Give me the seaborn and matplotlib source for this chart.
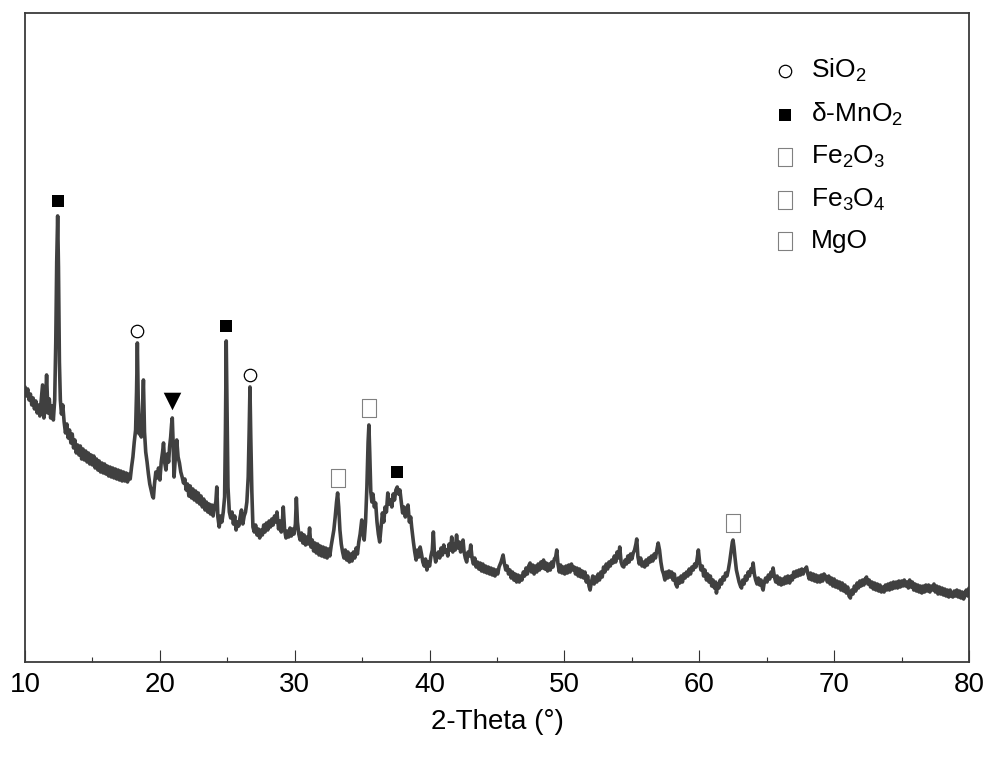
import numpy as np
import pandas as pd
import matplotlib
matplotlib.use('Agg')
import matplotlib.pyplot as plt
import seaborn as sns

# XRD scan: (2-theta in degrees, intensity in a.u.)
xrd_points = [
    (10.0, 275), (10.1, 266), (10.2, 273), (10.3, 262), (10.4, 268), (10.5, 257), (10.6, 264), (10.7, 253),
    (10.8, 261), (10.9, 249), (11.0, 257), (11.1, 246), (11.2, 262), (11.3, 277), (11.4, 244), (11.5, 255),
    (11.6, 287), (11.7, 249), (11.8, 263), (11.9, 244), (12.0, 256), (12.1, 242), (12.2, 262), (12.28, 320),
    (12.35, 400), (12.42, 446), (12.48, 395), (12.55, 300), (12.62, 262), (12.7, 248), (12.8, 257), (12.9, 240),
    (13.0, 229), (13.1, 238), (13.2, 224), (13.3, 232), (13.4, 219), (13.5, 228), (13.6, 214), (13.7, 222),
    (13.8, 209), (13.9, 217), (14.0, 207), (14.1, 216), (14.2, 203), (14.3, 213), (14.4, 202), (14.5, 211),
    (14.6, 200), (14.7, 209), (14.8, 198), (14.9, 207), (15.0, 197), (15.1, 206), (15.2, 194), (15.3, 203),
    (15.4, 192), (15.5, 201), (15.6, 190), (15.7, 199), (15.8, 189), (15.9, 198), (16.0, 188), (16.1, 196),
    (16.2, 186), (16.3, 195), (16.4, 185), (16.5, 194), (16.6, 184), (16.7, 193), (16.8, 183), (16.9, 192),
    (17.0, 182), (17.1, 191), (17.2, 181), (17.3, 190), (17.4, 181), (17.5, 189), (17.6, 180), (17.7, 188),
    (17.8, 183), (17.9, 195), (18.0, 205), (18.1, 220), (18.2, 232), (18.27, 270), (18.33, 319), (18.39, 265),
    (18.46, 228), (18.55, 232), (18.62, 225), (18.7, 250), (18.78, 282), (18.86, 230), (18.95, 210), (19.05, 200),
    (19.15, 188), (19.25, 178), (19.35, 172), (19.45, 166), (19.52, 164), (19.6, 178), (19.7, 190), (19.8, 184),
    (19.9, 194), (20.0, 182), (20.1, 200), (20.2, 210), (20.27, 219), (20.35, 200), (20.45, 192), (20.55, 208),
    (20.65, 200), (20.72, 215), (20.8, 225), (20.87, 238), (20.92, 244), (20.98, 220), (21.05, 185), (21.15, 205),
    (21.25, 222), (21.35, 205), (21.45, 199), (21.55, 190), (21.65, 185), (21.75, 179), (21.85, 183), (21.95, 172),
    (22.05, 178), (22.15, 166), (22.25, 176), (22.35, 164), (22.45, 173), (22.55, 162), (22.65, 171), (22.75, 160),
    (22.85, 169), (22.95, 158), (23.05, 166), (23.15, 155), (23.25, 163), (23.35, 152), (23.45, 160), (23.55, 150),
    (23.65, 158), (23.75, 148), (23.85, 157), (23.95, 146), (24.05, 155), (24.15, 160), (24.22, 175), (24.3, 145),
    (24.4, 135), (24.5, 146), (24.6, 140), (24.7, 150), (24.8, 165), (24.86, 230), (24.92, 321), (24.98, 250),
    (25.05, 175), (25.15, 150), (25.25, 144), (25.35, 150), (25.45, 138), (25.55, 146), (25.65, 132), (25.75, 140),
    (25.85, 136), (25.95, 145), (26.05, 152), (26.15, 138), (26.25, 146), (26.35, 150), (26.45, 160), (26.55, 185),
    (26.62, 230), (26.68, 275), (26.74, 225), (26.82, 170), (26.9, 135), (27.0, 130), (27.1, 137), (27.2, 127),
    (27.3, 133), (27.4, 124), (27.5, 132), (27.6, 127), (27.7, 137), (27.8, 130), (27.9, 139), (28.0, 132),
    (28.1, 141), (28.2, 135), (28.3, 143), (28.4, 137), (28.5, 146), (28.6, 140), (28.68, 150), (28.8, 133),
    (28.9, 141), (29.0, 130), (29.08, 140), (29.15, 155), (29.25, 132), (29.35, 124), (29.45, 131), (29.55, 125),
    (29.65, 134), (29.75, 126), (29.85, 133), (29.95, 128), (30.05, 138), (30.12, 164), (30.2, 140), (30.3, 128),
    (30.4, 122), (30.5, 129), (30.6, 119), (30.7, 127), (30.8, 117), (30.9, 125), (31.0, 118), (31.1, 134),
    (31.2, 115), (31.3, 122), (31.4, 111), (31.5, 119), (31.6, 109), (31.7, 118), (31.8, 107), (31.9, 116),
    (32.0, 106), (32.1, 115), (32.2, 105), (32.3, 114), (32.4, 104), (32.5, 113), (32.6, 106), (32.7, 116),
    (32.8, 124), (32.9, 132), (33.0, 145), (33.1, 160), (33.18, 169), (33.26, 155), (33.35, 132), (33.45, 118),
    (33.55, 110), (33.65, 104), (33.75, 112), (33.85, 102), (33.95, 110), (34.05, 100), (34.15, 108), (34.25, 101),
    (34.35, 110), (34.45, 104), (34.55, 114), (34.65, 108), (34.75, 120), (34.85, 128), (34.97, 142), (35.05, 130),
    (35.15, 122), (35.25, 140), (35.35, 175), (35.44, 220), (35.5, 237), (35.56, 210), (35.64, 170), (35.72, 160),
    (35.8, 168), (35.9, 155), (36.0, 159), (36.1, 140), (36.2, 128), (36.3, 120), (36.4, 135), (36.5, 149),
    (36.6, 140), (36.7, 155), (36.8, 150), (36.9, 169), (37.0, 158), (37.1, 162), (37.2, 155), (37.3, 168),
    (37.4, 162), (37.5, 172), (37.6, 175), (37.7, 168), (37.8, 172), (37.9, 160), (38.0, 149), (38.1, 155),
    (38.2, 145), (38.3, 152), (38.4, 157), (38.5, 140), (38.6, 145), (38.67, 135), (38.8, 120), (38.9, 110),
    (39.0, 102), (39.1, 112), (39.2, 105), (39.3, 115), (39.4, 108), (39.5, 100), (39.6, 96), (39.7, 103),
    (39.8, 92), (39.9, 100), (40.0, 96), (40.1, 106), (40.2, 112), (40.28, 130), (40.36, 108), (40.45, 100),
    (40.55, 106), (40.65, 110), (40.75, 104), (40.85, 114), (40.95, 107), (41.05, 117), (41.15, 110), (41.25, 112),
    (41.35, 106), (41.45, 118), (41.55, 112), (41.64, 125), (41.72, 110), (41.8, 118), (41.9, 112), (42.0, 127),
    (42.1, 114), (42.2, 120), (42.3, 110), (42.4, 118), (42.48, 122), (42.56, 110), (42.65, 104), (42.75, 100),
    (42.85, 110), (42.95, 106), (43.05, 117), (43.15, 104), (43.25, 98), (43.35, 104), (43.45, 95), (43.55, 100),
    (43.65, 93), (43.75, 99), (43.85, 91), (43.95, 98), (44.05, 90), (44.15, 96), (44.25, 89), (44.35, 95),
    (44.45, 88), (44.55, 94), (44.65, 87), (44.75, 93), (44.85, 86), (44.95, 92), (45.05, 88), (45.15, 95),
    (45.3, 100), (45.45, 107), (45.55, 98), (45.65, 92), (45.75, 96), (45.85, 88), (45.96, 92), (46.05, 84),
    (46.15, 90), (46.25, 82), (46.35, 88), (46.45, 80), (46.55, 87), (46.65, 80), (46.75, 86), (46.85, 82),
    (46.95, 90), (47.05, 86), (47.15, 94), (47.25, 88), (47.35, 96), (47.45, 99), (47.55, 90), (47.65, 97),
    (47.75, 88), (47.85, 96), (47.95, 90), (48.05, 98), (48.15, 92), (48.25, 100), (48.35, 94), (48.45, 102),
    (48.55, 93), (48.65, 99), (48.75, 91), (48.85, 98), (48.95, 92), (49.05, 100), (49.15, 95), (49.25, 103),
    (49.35, 105), (49.43, 112), (49.52, 98), (49.62, 90), (49.72, 97), (49.82, 89), (49.92, 95), (50.02, 88),
    (50.12, 96), (50.22, 89), (50.32, 97), (50.42, 90), (50.52, 98), (50.62, 92), (50.72, 95), (50.82, 88),
    (50.92, 94), (51.02, 86), (51.12, 93), (51.22, 85), (51.32, 91), (51.42, 84), (51.52, 90), (51.62, 80),
    (51.72, 86), (51.82, 76), (51.9, 72), (52.0, 80), (52.1, 86), (52.2, 78), (52.3, 85), (52.4, 80),
    (52.5, 88), (52.6, 82), (52.7, 90), (52.8, 85), (52.9, 95), (53.0, 90), (53.1, 98), (53.2, 93),
    (53.3, 100), (53.4, 96), (53.5, 102), (53.6, 99), (53.7, 106), (53.8, 100), (53.9, 110), (54.0, 104),
    (54.1, 115), (54.2, 100), (54.3, 96), (54.4, 95), (54.5, 102), (54.6, 98), (54.7, 106), (54.8, 100),
    (54.9, 108), (55.0, 103), (55.1, 109), (55.2, 112), (55.3, 118), (55.36, 123), (55.45, 105), (55.55, 98),
    (55.65, 104), (55.75, 96), (55.85, 100), (55.95, 95), (56.05, 102), (56.15, 97), (56.25, 104), (56.35, 100),
    (56.45, 106), (56.55, 101), (56.65, 108), (56.75, 104), (56.85, 112), (56.95, 119), (57.05, 112), (57.15, 100),
    (57.25, 92), (57.35, 88), (57.45, 82), (57.55, 90), (57.65, 84), (57.75, 91), (57.85, 85), (57.95, 90),
    (58.05, 82), (58.15, 88), (58.25, 78), (58.35, 75), (58.45, 84), (58.55, 79), (58.65, 86), (58.75, 80),
    (58.85, 88), (58.95, 84), (59.05, 90), (59.15, 86), (59.25, 93), (59.35, 88), (59.45, 95), (59.55, 92),
    (59.65, 98), (59.75, 95), (59.85, 104), (59.93, 112), (60.02, 100), (60.12, 92), (60.22, 96), (60.32, 86),
    (60.42, 92), (60.53, 82), (60.62, 88), (60.72, 80), (60.82, 86), (60.92, 76), (61.02, 82), (61.12, 74),
    (61.22, 80), (61.27, 69), (61.35, 78), (61.45, 74), (61.55, 82), (61.65, 78), (61.75, 85), (61.85, 82),
    (61.95, 89), (62.05, 86), (62.15, 92), (62.25, 100), (62.35, 110), (62.45, 120), (62.5, 122), (62.57, 115),
    (62.65, 104), (62.75, 92), (62.85, 86), (62.95, 80), (63.05, 76), (63.13, 74), (63.22, 82), (63.32, 78),
    (63.42, 86), (63.52, 82), (63.62, 90), (63.72, 86), (63.82, 93), (63.9, 90), (63.99, 99), (64.08, 88),
    (64.18, 82), (64.28, 78), (64.38, 84), (64.48, 77), (64.58, 82), (64.68, 74), (64.73, 72), (64.82, 80),
    (64.92, 84), (65.02, 80), (65.12, 87), (65.22, 83), (65.32, 90), (65.42, 86), (65.47, 94), (65.57, 85),
    (65.67, 80), (65.77, 86), (65.87, 78), (65.97, 84), (66.07, 77), (66.17, 83), (66.27, 78), (66.37, 85),
    (66.47, 79), (66.57, 86), (66.7, 79), (66.8, 86), (66.9, 82), (67.0, 90), (67.1, 85), (67.2, 91),
    (67.3, 86), (67.4, 92), (67.5, 87), (67.6, 93), (67.7, 88), (67.8, 92), (67.95, 95), (68.05, 88),
    (68.15, 83), (68.25, 89), (68.35, 82), (68.45, 88), (68.55, 81), (68.65, 87), (68.75, 80), (68.85, 86),
    (68.95, 80), (69.05, 87), (69.15, 81), (69.25, 88), (69.4, 85), (69.5, 80), (69.6, 86), (69.7, 78),
    (69.8, 84), (69.9, 76), (70.0, 83), (70.1, 75), (70.2, 81), (70.3, 74), (70.4, 80), (70.5, 72),
    (70.6, 79), (70.7, 71), (70.8, 77), (70.9, 69), (71.0, 75), (71.1, 66), (71.2, 64), (71.3, 72),
    (71.4, 68), (71.5, 76), (71.6, 71), (71.7, 79), (71.8, 74), (71.9, 81), (72.0, 76), (72.1, 82),
    (72.2, 77), (72.3, 83), (72.4, 85), (72.5, 78), (72.6, 82), (72.7, 75), (72.8, 80), (72.9, 73),
    (73.0, 79), (73.1, 72), (73.2, 78), (73.3, 71), (73.4, 77), (73.5, 70), (73.6, 75), (73.7, 70),
    (73.8, 77), (73.9, 72), (74.0, 78), (74.1, 72), (74.2, 79), (74.3, 73), (74.4, 80), (74.5, 74),
    (74.6, 80), (74.7, 74), (74.8, 81), (74.9, 75), (75.0, 81), (75.1, 76), (75.2, 82), (75.3, 76),
    (75.4, 80), (75.5, 74), (75.6, 82), (75.7, 75), (75.8, 80), (75.9, 72), (76.0, 78), (76.1, 71),
    (76.2, 77), (76.3, 70), (76.4, 76), (76.5, 69), (76.6, 76), (76.7, 70), (76.8, 77), (76.9, 71),
    (77.0, 77), (77.1, 70), (77.2, 76), (77.3, 72), (77.4, 78), (77.5, 70), (77.6, 76), (77.7, 68),
    (77.8, 75), (77.9, 68), (78.0, 74), (78.1, 67), (78.2, 73), (78.3, 66), (78.4, 72), (78.5, 65),
    (78.6, 72), (78.7, 66), (78.8, 65), (78.9, 71), (79.0, 66), (79.1, 72), (79.2, 65), (79.3, 71),
    (79.4, 64), (79.5, 70), (79.6, 63), (79.7, 69), (79.8, 72), (79.9, 66), (80.0, 74),
]

# peak assignments (2-theta positions of the marked reflections)
sio2_peaks = [18.33, 26.68]
mno2_peaks = [12.42, 24.92, 37.6]
fe2o3_peaks = [33.18]
fe3o4_peaks = [35.5]
mgo_peaks = [62.5]
unknown_peaks = [20.92]

xticks = np.arange(10, 81, 10)

sns.set_style('white')
plt.rcParams['font.family'] = ['Liberation Sans', 'DejaVu Sans']
plt.rcParams['mathtext.fontset'] = 'custom'
plt.rcParams['mathtext.rm'] = 'Liberation Sans'
plt.rcParams['mathtext.default'] = 'regular'
plt.rcParams['text.color'] = 'black'
plt.rcParams['axes.labelcolor'] = 'black'
plt.rcParams['xtick.color'] = 'black'

df = pd.DataFrame(xrd_points, columns=['two_theta', 'intensity'])

fig, ax = plt.subplots(figsize=(9.89, 7.58), dpi=100)
plt.subplots_adjust(left=0.0253, right=0.9798, top=0.983, bottom=0.1266)

sns.lineplot(data=df, x='two_theta', y='intensity', color='#404040', linewidth=2.6, ax=ax)


def peak_top(theta):
    near = df[(df.two_theta - theta).abs() < 0.12]
    return near.intensity.max()


def mark(peaks, gap, **kw):
    ys = [peak_top(p) + gap for p in peaks]
    return ax.scatter(peaks, ys, zorder=5, clip_on=False, **kw)


box = [(-0.8, -1), (0.8, -1), (0.8, 1), (-0.8, 1), (-0.8, -1)]
h_sio2 = mark(sio2_peaks, 12, marker='o', s=80, facecolor='white', edgecolor='black', linewidth=0.9, label='SiO$_2$')
h_mno2 = mark(mno2_peaks, 15, marker='s', s=80, color='black', linewidth=0, label='δ-MnO$_2$')
h_fe2o3 = mark(fe2o3_peaks, 15, marker=box, s=170, facecolor='white', edgecolor='#808080', linewidth=0.8, label='Fe$_2$O$_3$')
h_fe3o4 = mark(fe3o4_peaks, 17, marker=box, s=170, facecolor='white', edgecolor='#808080', linewidth=0.8, label='Fe$_3$O$_4$')
h_mgo = mark(mgo_peaks, 17, marker=box, s=170, facecolor='white', edgecolor='#808080', linewidth=0.8, label='MgO')
mark(unknown_peaks, 17, marker='v', s=160, color='black', linewidth=0)

ax.legend(handles=[h_sio2, h_mno2, h_fe2o3, h_fe3o4, h_mgo], loc='upper left',
          bbox_to_anchor=(0.792, 0.932), frameon=False, fontsize=19, scatterpoints=1,
          borderaxespad=0, borderpad=0, labelspacing=0.62, handlelength=0.9, handletextpad=0.55)

ax.set_xlim(10, 80)
ax.set_ylim(0, 649)
ax.set_xticks(xticks)
ax.set_xticks(np.arange(15, 80, 10), minor=True)
ax.set_yticks([])
ax.tick_params(axis='x', which='major', direction='in', length=8.5, width=0.8, labelsize=20, pad=7,
               bottom=True, top=False, color='#333333')
ax.tick_params(axis='x', which='minor', direction='in', length=3.6, width=0.8, bottom=True, top=False,
               color='#333333')
ax.set_xlabel('2-Theta (°)', fontsize=20, labelpad=8)
ax.set_ylabel('')
for sp in ax.spines.values():
    sp.set_color('#3a3a3a')
    sp.set_linewidth(1.3)

plt.savefig('out.png', dpi=100)
plt.close()
